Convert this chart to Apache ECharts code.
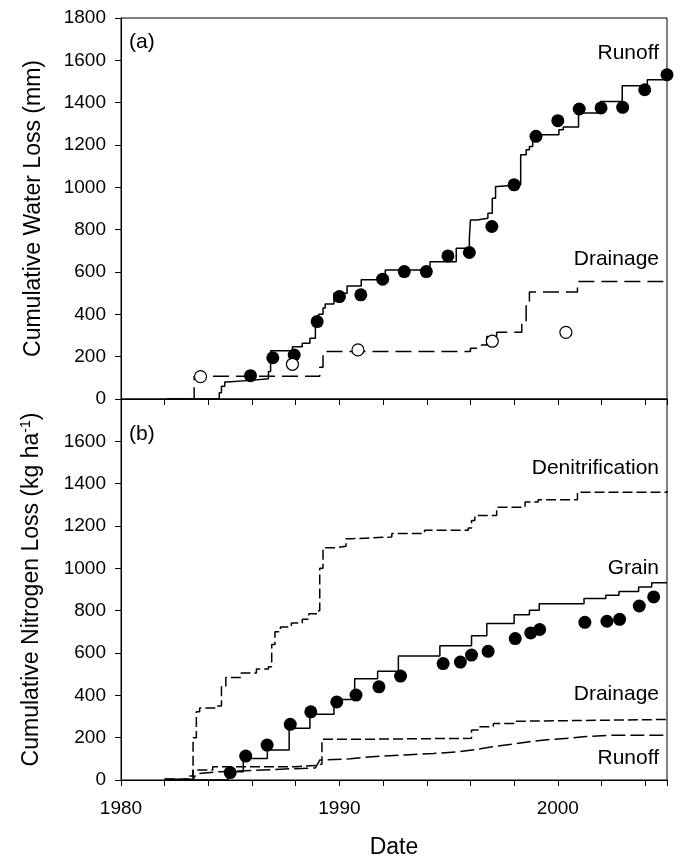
<!DOCTYPE html>
<html>
<head>
<meta charset="utf-8">
<script src="https://cdn.jsdelivr.net/npm/echarts@6/dist/echarts.min.js"></script>
<style>
html,body{margin:0;padding:0;background:#fff;}
#chart{width:680px;height:860px;}
</style>
</head>
<body>
<div id="chart"></div>
<script>
// ---------- Data ----------
var xTicks = [1980, 1990, 2000];
var yTicks = [0, 200, 400, 600, 800, 1000, 1200, 1400, 1600, 1800];

// Panel (a): cumulative water loss (mm)
var runoffSimA = [[1982.1,0],[1984.5,30],[1984.6,60],[1984.75,80],[1984.85,88],[1985.95,96],[1986.75,130],[1986.85,228],[1987.85,247],[1988.3,263],[1988.65,287],[1988.9,360],[1989.05,400],[1989.25,430],[1989.35,449],[1989.75,500],[1990.35,534],[1991.0,563],[1992.1,610],[1994.15,649],[1995.35,712],[1995.95,760],[1996.0,846],[1996.3,854],[1996.8,878],[1997.0,949],[1997.15,1004],[1997.25,1012],[1998.3,1154],[1998.55,1177],[1998.7,1193],[1998.85,1248],[2000.05,1272],[2000.25,1285],[2000.95,1351],[2001.95,1406],[2002.95,1480],[2004.1,1508],[2005,1508]];
var drainSimA = [[1982.1,0],[1983.35,108],[1989.1,150],[1989.25,224],[1996.0,240],[1996.35,255],[1996.75,295],[1997.2,315],[1998.35,360],[1998.55,440],[1998.7,505],[2000.9,555],[2005,555]];
var runoffObsA = [[1985.93,110],[1986.95,195],[1987.93,208],[1988.98,366],[1990.0,484],[1990.98,492],[1991.98,566],[1992.97,602],[1993.98,602],[1994.97,676],[1995.95,692],[1996.98,815],[1998.0,1012],[1999.0,1241],[2000.0,1315],[2000.98,1370],[2001.98,1375],[2002.97,1378],[2003.98,1461],[2005.0,1532]];
var drainObsA = [[1983.64,106],[1987.85,164],[1990.85,232],[1997.0,273],[2000.37,315]];

// Panel (b): cumulative nitrogen loss (kg/ha)
var denitSimB = [[1982.0,3],[1983.1,19],[1983.3,200],[1983.45,322],[1983.6,340],[1984.3,350],[1984.6,440],[1984.8,484],[1985.5,505],[1986.2,525],[1986.75,535],[1986.9,640],[1987.05,700],[1987.3,723],[1987.8,742],[1988.3,760],[1988.6,786],[1989.0,800],[1989.1,1000],[1989.25,1097],[1989.8,1104],[1990.3,1140],[1990.6,1148],[1992.4,1165],[1993.9,1180],[1995.9,1190],[1996.05,1226],[1996.2,1250],[1997.2,1289],[1998.5,1313],[1999.1,1324],[2000.9,1360],[2005,1365]];
var grainSimB = [[1982.1,0],[1984.9,39],[1985.6,102],[1986.7,142],[1987.7,244],[1988.65,311],[1989.75,380],[1990.7,478],[1991.75,514],[1992.7,586],[1994.6,634],[1996.05,681],[1996.75,739],[1998.0,781],[1998.7,802],[1999.15,833],[2001.2,857],[2002.2,873],[2002.8,890],[2003.7,912],[2004.3,932],[2005,932]];
var grainObsB = [[1985.0,35],[1985.71,113],[1986.69,165],[1987.75,263],[1988.69,322],[1989.88,369],[1990.76,401],[1991.81,440],[1992.8,491],[1994.75,550],[1995.54,557],[1996.05,590],[1996.81,608],[1998.05,668],[1998.76,695],[1999.17,711],[2001.24,745],[2002.25,750],[2002.83,759],[2003.73,822],[2004.39,865]];
var drainSimB = [[1982.0,3],[1983.3,47],[1984.2,63],[1988.0,68],[1988.9,75],[1989.2,192],[1990.5,197],[1996.05,236],[1996.35,252],[1997.05,267],[1998.0,278],[1998.55,286],[2005,286]];
var runoffSimB = [[1982.0,3],[1983.3,3],[1983.45,30],[1984.5,39],[1986.0,45],[1987.5,52],[1988.9,57],[1989.1,94],[1990.5,100],[1991.5,110],[1993.0,118],[1994.3,125],[1995.5,134],[1996.3,145],[1997.0,157],[1998.0,170],[1998.7,181],[1999.5,190],[2000.5,197],[2001.3,205],[2002.5,212],[2005,212]];

// ---------- Chart ----------
var FONT = "'Liberation Sans', Arial, sans-serif";
var chart = echarts.init(document.getElementById('chart'), null, {renderer: 'canvas'});

function xAxisCfg(grid, showLabels) {
  return {
    type: 'value', gridIndex: grid, min: 1980, max: 2005, interval: 2,
    axisLine: {show: true, lineStyle: {color: '#000', width: 1}},
    axisTick: {show: true, length: 6, lineStyle: {color: '#000'}},
    splitLine: {show: false},
    axisLabel: {
      show: showLabels, color: '#000', fontSize: 19, fontFamily: FONT, margin: 19,
      formatter: function (v) { return xTicks.indexOf(v) >= 0 ? String(v) : ''; }
    },
    name: showLabels ? 'Date' : '',
    nameLocation: 'middle', nameGap: 56,
    nameTextStyle: {color: '#000', fontSize: 23, fontFamily: FONT}
  };
}
function yAxisCfg(grid, name, showMax) {
  return {
    type: 'value', gridIndex: grid, min: yTicks[0], max: yTicks[yTicks.length - 1], interval: 200,
    axisLine: {show: true, lineStyle: {color: '#000', width: 1}},
    axisTick: {show: true, length: 6, lineStyle: {color: '#000'}},
    splitLine: {show: false},
    axisLabel: {color: '#000', fontSize: 19, fontFamily: FONT, margin: 15, showMaxLabel: showMax,
      formatter: function (v) { return String(v); }},
    name: name, nameLocation: 'middle', nameGap: 76, nameRotate: 90,
    nameTextStyle: {
      color: '#000', fontSize: 23, fontFamily: FONT,
      rich: {
        a: {fontSize: 23, fontFamily: FONT, color: '#000'},
        s: {fontSize: 14, fontFamily: FONT, color: '#000', padding: [0, 0, 12, 0]}
      }
    }
  };
}
function lineSeries(data, xi, dash, step) {
  return {
    type: 'line', xAxisIndex: xi, yAxisIndex: xi, data: data,
    step: step === false ? false : 'end', showSymbol: false, symbol: 'none',
    lineStyle: {color: '#000', width: 1.5, type: dash},
    z: 2, silent: true
  };
}
function scatterSeries(data, xi, open) {
  return {
    type: 'scatter', xAxisIndex: xi, yAxisIndex: xi, data: data,
    symbol: 'circle', symbolSize: open ? 12 : 13, clip: false,
    itemStyle: open ? {color: '#fff', borderColor: '#000', borderWidth: 1.2, opacity: 1} : {color: '#000', opacity: 1},
    z: 3, silent: true
  };
}
function label(text, pos) {
  var o = {type: 'text', style: {text: text, fill: '#000', font: '21px ' + FONT}};
  for (var k in pos) o[k] = pos[k];
  return o;
}

var option = {
  animation: false,
  backgroundColor: '#fff',
  grid: [
    {left: 121, right: 13, top: 18, height: 381, show: true, borderColor: '#000', borderWidth: 1, backgroundColor: 'transparent'},
    {left: 121, right: 13, top: 399, height: 383, show: true, borderColor: '#000', borderWidth: 1, backgroundColor: 'transparent'}
  ],
  xAxis: [xAxisCfg(0, false), xAxisCfg(1, true)],
  yAxis: [
    yAxisCfg(0, 'Cumulative Water Loss (mm)', true),
    yAxisCfg(1, '{a|Cumulative Nitrogen Loss (kg ha}{s|-1}{a|)}', false)
  ],
  series: [
    lineSeries(runoffSimA, 0, 'solid'),
    lineSeries(drainSimA, 0, [16, 7]),
    scatterSeries(runoffObsA, 0, false),
    scatterSeries(drainObsA, 0, true),
    lineSeries(denitSimB, 1, [10, 4]),
    lineSeries(grainSimB, 1, 'solid'),
    lineSeries(drainSimB, 1, [10, 4]),
    lineSeries(runoffSimB, 1, [14, 5], false),
    scatterSeries(grainObsB, 1, false)
  ],
  graphic: [
    label('(a)', {left: 129, top: 32}),
    label('Runoff', {right: 21, top: 43}),
    label('Drainage', {right: 21, top: 249}),
    label('(b)', {left: 129, top: 424}),
    label('Denitrification', {right: 21, top: 458}),
    label('Grain', {right: 21, top: 558}),
    label('Drainage', {right: 21, top: 684}),
    label('Runoff', {right: 21, top: 748})
  ]
};
chart.setOption(option);
</script>
</body>
</html>
